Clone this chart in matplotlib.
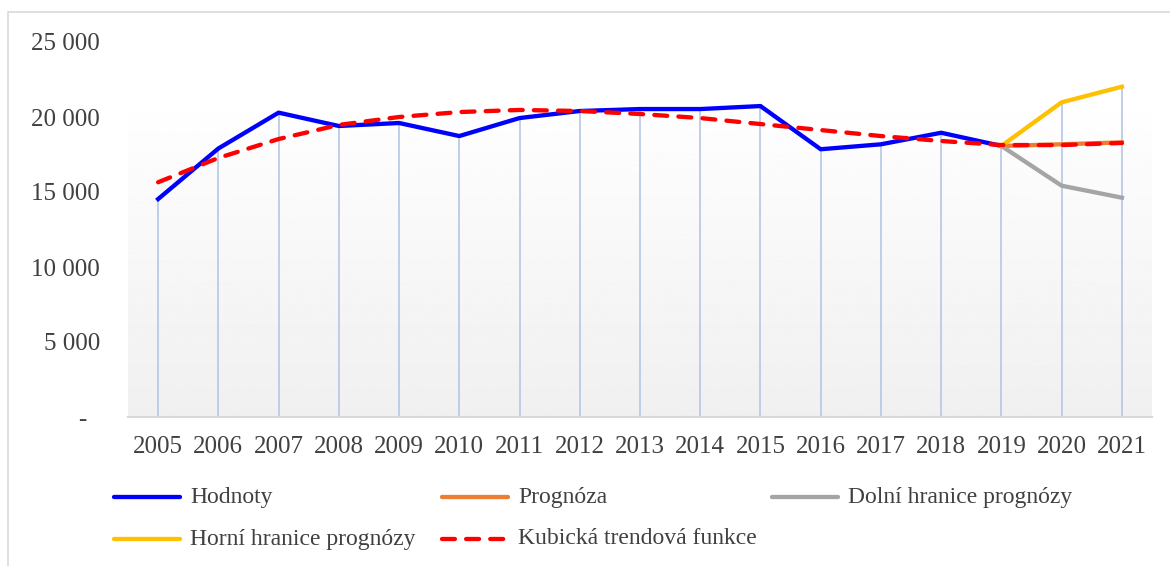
import numpy as np
import matplotlib
matplotlib.use('Agg')
import matplotlib.pyplot as plt
from matplotlib.lines import Line2D
from matplotlib.patches import Rectangle

plt.rcParams['font.family'] = ['Liberation Serif', 'DejaVu Serif']
plt.rcParams['font.size'] = 18
text_col = '#404040'

years = list(range(2005, 2022))
hodnoty = [14530, 17900, 20290, 19400, 19600, 18730, 19930, 20400, 20530, 20530,
           20730, 17850, 18180, 18950, 18070]
prognoza = [18070, 18180, 18310]
dolni = [18070, 15420, 14620]
horni = [18070, 20980, 22020]
trend = [15650, 17270, 18530, 19470, 20000, 20330, 20470, 20400, 20200, 19930,
         19530, 19130, 18730, 18400, 18130, 18130, 18270]

W, H = 1170, 566
LW = 3.1
DASH = (3.0, 2.6)
fig = plt.figure(figsize=(W / 100, H / 100), dpi=100)
ax = fig.add_axes([128 / W, (H - 417) / H, 1024 / W, (417 - 42) / H])

# chart border
fig.add_artist(Rectangle((8 / W, -0.05), 1.0, 1 - 12 / H + 0.05, transform=fig.transFigure,
                         fill=False, edgecolor='#d9d9d9', lw=1.2))

# gradient plot-area fill
grad = np.linspace(0.94, 1.0, 256).reshape(-1, 1)
ax.imshow(grad, cmap='gray', vmin=0, vmax=1, aspect='auto', origin='lower',
          extent=[0, 1, 0, (417 - 90) / (417 - 42)], transform=ax.transAxes, zorder=0)

x = np.arange(len(years))
xh = x[:len(hodnoty)]
xp = x[len(hodnoty) - 1:]

# drop lines to the highest forecast/actual value
tops = list(hodnoty[:-1]) + [max(a, b, c) for a, b, c in zip(prognoza, dolni, horni)]
ax.vlines(x, 0, tops, color='#b4c7e7', lw=1.2, zorder=1)

ax.plot(xh, hodnoty, color='#0000ff', lw=LW, zorder=3)
ax.plot(xp, prognoza, color='#ed7d31', lw=LW, zorder=3)
ax.plot(xp, dolni, color='#a5a5a5', lw=LW, zorder=3)
ax.plot(xp, horni, color='#ffc000', lw=LW, zorder=3)
tl, = ax.plot(x, trend, color='#ff0000', lw=LW, dashes=DASH, zorder=4)
tl.set_dash_capstyle('round')

ax.set_xlim(-0.5, len(years) - 0.5)
ax.set_ylim(0, 25000)
ax.set_xticks(x)
ax.set_xticklabels([str(y) for y in years], color=text_col)
yt = [0, 5000, 10000, 15000, 20000, 25000]
ax.set_yticks(yt)
ax.set_yticklabels(['-  '] + ['{:,}'.format(v).replace(',', ' ') for v in yt[1:]], color=text_col)
ax.tick_params(axis='both', length=0)
ax.tick_params(axis='y', pad=20)
ax.tick_params(axis='x', pad=14)
for s in ['top', 'right', 'left']:
    ax.spines[s].set_visible(False)
ax.spines['bottom'].set_color('#d9d9d9')
ax.spines['bottom'].set_linewidth(1.5)
ax.set_facecolor('white')

# legend
entries = [
    ('Hodnoty', '#0000ff', None, 112, 497),
    ('Prognóza', '#ed7d31', None, 440, 497),
    ('Dolní hranice prognózy', '#a5a5a5', None, 770, 497),
    ('Horní hranice prognózy', '#ffc000', None, 112, 539),
    ('Kubická trendová funkce', '#ff0000', DASH, 440, 539),
]
for label, col, dash, lx, ly in entries:
    yy = 1 - ly / H
    ln = Line2D([(lx + 2) / W, (lx + 68) / W], [yy, yy], transform=fig.transFigure,
                color=col, lw=LW, solid_capstyle='round')
    if dash:
        ln.set_dashes(dash)
        ln.set_dash_capstyle('round')
    fig.add_artist(ln)
    fig.text((lx + 78) / W, yy, label, va='center', ha='left', color=text_col, fontsize=17)

fig.savefig('out.png', dpi=100)
